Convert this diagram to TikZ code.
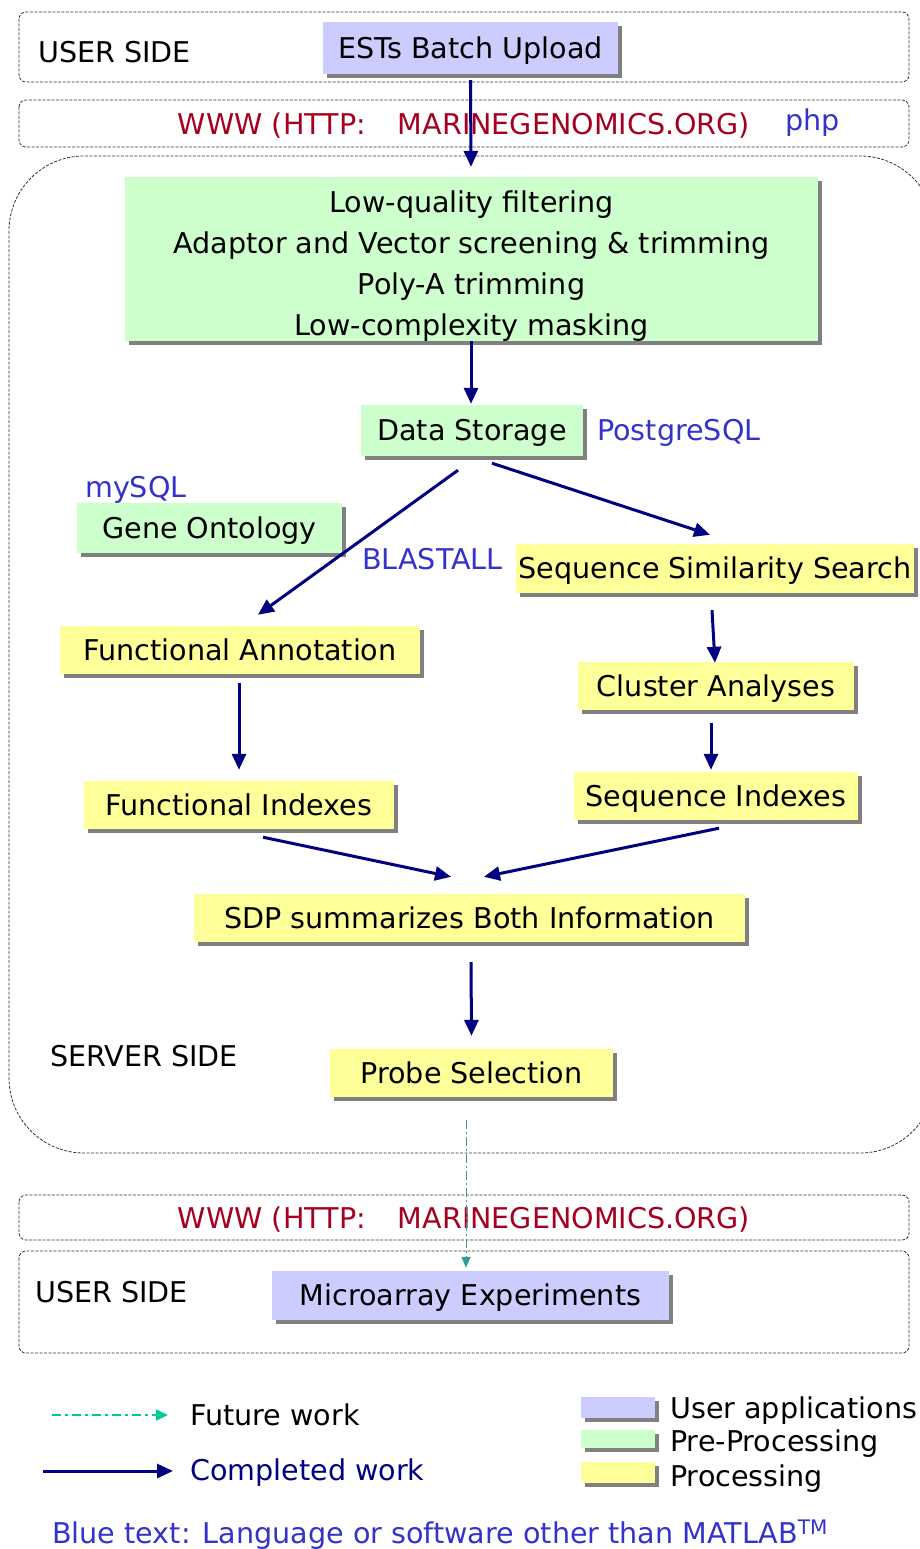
\documentclass[tikz,border=0pt]{standalone}
\usepackage{fontspec}
\setmainfont{DejaVu Sans}
\usetikzlibrary{arrows.meta,shadows}
\definecolor{lav}{HTML}{CCCCFF}
\definecolor{grn}{HTML}{CCFFCC}
\definecolor{yel}{HTML}{FFFF99}
\definecolor{navyc}{HTML}{000080}
\definecolor{bluetxt}{HTML}{3333CC}
\definecolor{redtxt}{HTML}{A50021}
\definecolor{tealdd}{HTML}{339999}
\definecolor{teallg}{HTML}{00CC99}
\definecolor{shad}{HTML}{808080}
\begin{document}
\begin{tikzpicture}[x=1pt,y=-1pt,
  font=\fontsize{28.6}{41}\selectfont,
  one/.style={text height=20.9pt, text depth=0pt},
  box/.style={inner sep=0pt, align=center, drop shadow={shadow xshift=4pt,shadow yshift=-4pt,fill=shad,opacity=1}},
  userbox/.style={box, one, fill=lav},
  prebox/.style={box, fill=grn},
  procbox/.style={box, one, fill=yel},
  zone/.style={draw=black!80, line width=0.8pt, dash pattern=on 3pt off 1.5pt, rounded corners=7pt},
  lbl/.style={anchor=west, inner sep=0pt, one},
  bluelbl/.style={lbl, text=bluetxt},
  redlbl/.style={inner sep=0pt, one, text=redtxt},
  arr/.style={draw=navyc, line width=3pt, -{Triangle[length=16pt,width=14pt]}},
  fut/.style={draw=tealdd, line width=1pt, dash pattern=on 9pt off 3pt on 2pt off 3pt, -{Triangle[length=11pt,width=9pt]}},
]
\useasboundingbox (0,0) rectangle (919,1549);
\fill[white] (0,0) rectangle (919,1549);

% zones
\draw[zone] (19,12) rectangle (909,82);
\draw[zone] (19,100) rectangle (909,147);
\draw[zone, rounded corners=75pt] (9,156) rectangle (935,1153);
\draw[zone] (19,1195) rectangle (909,1240);
\draw[zone] (19,1251) rectangle (909,1353);

% zone labels
\node[lbl] (us1) at (38,52) {USER SIDE};
\node[redlbl] (www1) at (464,124) {WWW (HTTP:\ \ \ \,MARINEGENOMICS.ORG)};
\node[bluelbl] (php) at (785,120) {php};
\node[lbl] (ss) at (50,1056) {SERVER SIDE};
\node[redlbl] (www2) at (464,1218) {WWW (HTTP:\ \ \ \,MARINEGENOMICS.ORG)};
\node[lbl] (us2) at (35,1292) {USER SIDE};

% boxes
\node[userbox, minimum width=295pt, minimum height=52pt] (ests) at (470.5,48) {ESTs Batch Upload};
\node[prebox, minimum width=693pt, minimum height=162pt] (pre) at (471.5,259)
  {\rule{0pt}{35pt}Low-quality filtering\\Adaptor and Vector screening \& trimming\\Poly-A trimming\\Low-complexity masking};
\node[prebox, one, minimum width=222pt, minimum height=51pt] (ds) at (472,430.5) {Data Storage};
\node[bluelbl] (pg) at (597,430) {PostgreSQL};
\node[bluelbl] (my) at (85,487) {mySQL};
\node[prebox, one, minimum width=265pt, minimum height=50pt] (go) at (209.5,528) {Gene Ontology};
\node[bluelbl] (bl) at (362,559) {BLASTALL};
\node[procbox, minimum width=398pt, minimum height=49pt] (sss) at (715,568.5) {Sequence Similarity Search};
\node[procbox, minimum width=360pt, minimum height=48pt] (fa) at (240,650) {Functional Annotation};
\node[procbox, minimum width=276pt, minimum height=48pt] (ca) at (716,686) {Cluster Analyses};
\node[procbox, minimum width=310pt, minimum height=48pt] (fi) at (239,805) {Functional Indexes};
\node[procbox, minimum width=284pt, minimum height=48pt] (si) at (716,796) {Sequence Indexes};
\node[procbox, minimum width=551pt, minimum height=48pt] (sdp) at (469.5,918) {SDP summarizes Both Information};
\node[procbox, minimum width=283pt, minimum height=48pt] (ps) at (471.5,1073) {Probe Selection};
\node[userbox, minimum width=397pt, minimum height=49pt] (ma) at (470.5,1295.5) {Microarray Experiments};

% connectors
\draw[arr] ([yshift=-6pt]ests.south) -- ([xshift=-0.5pt,yshift=10pt]pre.north);
\draw[arr] ([xshift=-0.5pt]pre.south) -- ([xshift=-1pt,yshift=1pt]ds.north);
\draw[arr] ([xshift=-14pt,yshift=-14pt]ds.south) -- ([xshift=18pt,yshift=11pt]fa.north);
\draw[arr] ([xshift=20pt,yshift=-7pt]ds.south) -- ([xshift=-5pt,yshift=9pt]sss.north);
\draw[arr] ([xshift=-3pt,yshift=-17pt]sss.south) -- ([xshift=-1pt,yshift=-1pt]ca.north);
\draw[arr] ([xshift=-1pt,yshift=-9pt]fa.south) -- ([yshift=11pt]fi.north);
\draw[arr] ([xshift=-5pt,yshift=-13pt]ca.south) -- ([xshift=-5pt,yshift=2pt]si.north);
\draw[arr] ([xshift=24pt,yshift=-8pt]fi.south) -- ([xshift=-18.5pt,yshift=17pt]sdp.north);
\draw[arr] ([xshift=3pt,yshift=-8pt]si.south) -- ([xshift=14.5pt,yshift=17pt]sdp.north);
\draw[arr] ([xshift=1.5pt,yshift=-20pt]sdp.south) -- ([yshift=13pt]ps.north);
\draw[fut] ([xshift=-5.5pt,yshift=-23pt]ps.south) -- ([xshift=-4.5pt,yshift=3pt]ma.north);

% legend
\coordinate (f1) at (52,1415);
\coordinate (f2) at (168,1415);
\draw[draw=teallg, line width=1.8pt, dash pattern=on 9pt off 4pt on 3pt off 4pt, -{Triangle[length=12pt,width=11pt]}] (f1) -- (f2);
\node[lbl] (fw) at (190,1415) {Future work};
\coordinate (c1) at (43,1471);
\coordinate (c2) at (173,1471);
\draw[arr] (c1) -- (c2);
\node[lbl, text=navyc] (cw) at (190,1470) {Completed work};

\node[userbox, minimum width=74pt, minimum height=19pt] (lg1) at (618,1407.5) {};
\node[prebox, minimum width=74pt, minimum height=18pt] (lg2) at (618,1439) {};
\node[procbox, minimum width=74pt, minimum height=19pt] (lg3) at (618,1472.5) {};
\node[lbl] (lt1) at (670,1408) {User applications};
\node[lbl] (lt2) at (670,1441) {Pre-Processing};
\node[lbl] (lt3) at (670,1476) {Processing};

\node[bluelbl] (cap) at (52,1533) {Blue text: Language or software other than MATLAB\textsuperscript{TM}};
\end{tikzpicture}
\end{document}
